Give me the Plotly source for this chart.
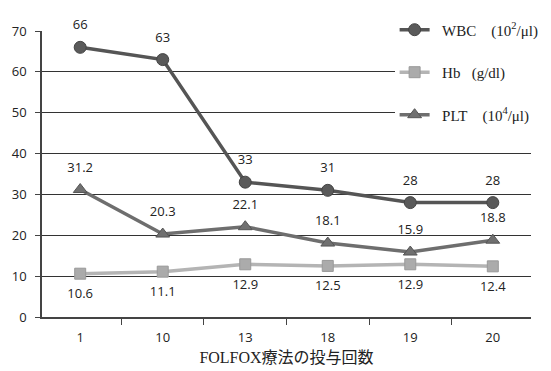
import plotly.graph_objects as go

categories = ["1", "10", "13", "18", "19", "20"]
wbc = [66, 63, 33, 31, 28, 28]
hb = [10.6, 11.1, 12.9, 12.5, 12.9, 12.4]
plt_vals = [31.2, 20.3, 22.1, 18.1, 15.9, 18.8]
y_ticks = [0, 10, 20, 30, 40, 50, 60, 70]

wbc_labels = [str(v) for v in wbc]
hb_labels = [str(v) for v in hb]
plt_labels = [str(v) for v in plt_vals]

sans = "Open Sans, Liberation Sans, sans-serif"
serif = "Liberation Serif, Noto Sans CJK JP, serif"
label_font = dict(family=sans, size=13, color="#222")

fig = go.Figure()
fig.add_trace(go.Scatter(
    x=categories, y=wbc, mode="lines+markers",
    line=dict(color="#555555", width=3.5),
    marker=dict(symbol="circle", size=12, color="#5a5a5a", line=dict(color="#444", width=1)),
    name="\u00a0\u00a0WBC\u00a0\u00a0\u00a0\u00a0(10<sup>2</sup>/μl)", legendgroup="a"))
fig.add_trace(go.Scatter(
    x=categories, y=hb, mode="lines+markers",
    line=dict(color="#b4b4b4", width=3.5),
    marker=dict(symbol="square", size=11, color="#ababab", line=dict(color="#999", width=1)),
    name="\u00a0\u00a0Hb\u00a0\u00a0\u00a0(g/dl)", legendgroup="b"))
fig.add_trace(go.Scatter(
    x=categories, y=plt_vals, mode="lines+markers",
    line=dict(color="#6e6e6e", width=3.5),
    marker=dict(symbol="triangle-up", size=12, color="#707070", line=dict(color="#555", width=1)),
    name="\u00a0\u00a0PLT\u00a0\u00a0\u00a0\u00a0(10<sup>4</sup>/μl)", legendgroup="c"))

# data labels (transparent holder markers push the text further from the points)
for vals, labels, pos in [(wbc, wbc_labels, "top center"),
                          (hb, hb_labels, "bottom center"),
                          (plt_vals, plt_labels, "top center")]:
    fig.add_trace(go.Scatter(
        x=categories, y=vals, mode="markers+text", text=labels, textposition=pos,
        textfont=label_font, cliponaxis=False, showlegend=False, hoverinfo="skip",
        marker=dict(size=22, color="rgba(0,0,0,0)")))

fig.update_layout(
    width=543, height=363,
    margin=dict(l=34, r=20, t=23, b=54, autoexpand=False),
    paper_bgcolor="white", plot_bgcolor="white",
    showlegend=True,
    legend=dict(x=0.712, y=0.985, xref="container", yref="container",
                xanchor="left", yanchor="top",
                bgcolor="white", font=dict(family=serif, size=15, color="#222"),
                tracegroupgap=20, itemwidth=30),
    xaxis=dict(type="category", categoryorder="array", categoryarray=categories,
               tickson="boundaries", ticks="outside", ticklen=6, tickcolor="#444",
               showline=True, linecolor="#444", linewidth=1.5, showgrid=False,
               tickfont=dict(family=sans, size=13, color="#222"),
               ticklabelstandoff=8,
               title=dict(text="FOLFOX療法の投与回数", font=dict(family=serif, size=16, color="#222"), standoff=6)),
    yaxis=dict(range=[0, 70], tickvals=y_ticks, ticks="outside", ticklen=5, tickcolor="#444",
               showline=True, linecolor="#444", linewidth=1.5,
               showgrid=True, gridcolor="#333", gridwidth=1.2, zeroline=False,
               tickfont=dict(family=sans, size=13, color="#222"), ticklabelstandoff=6),
)

fig.write_html("out.html")
